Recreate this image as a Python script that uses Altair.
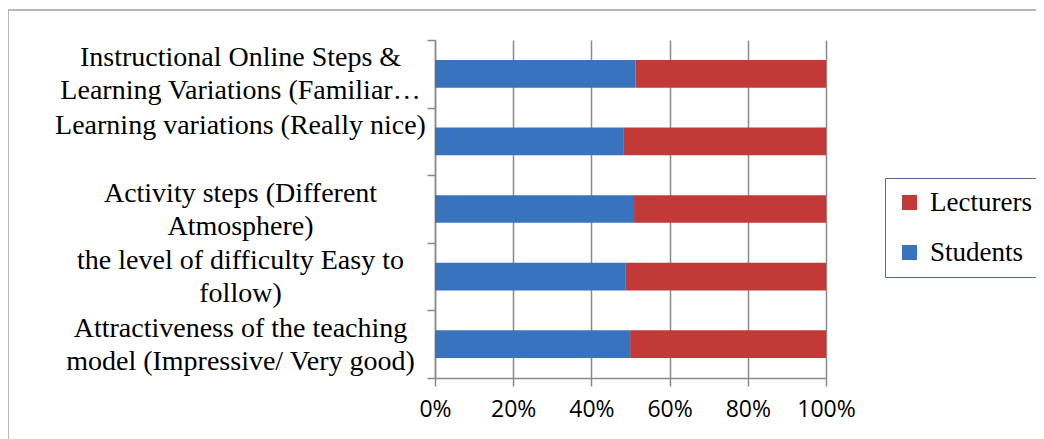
import altair as alt
import pandas as pd

categories = [
    "Instructional Online Steps &\nLearning Variations (Familiar…",
    "Learning variations (Really nice)",
    "Activity steps (Different\nAtmosphere)",
    "the level of difficulty Easy to\nfollow)",
    "Attractiveness of the teaching\nmodel (Impressive/ Very good)",
]
students = [51.3, 48.3, 50.9, 48.8, 49.9]
lecturers = [48.7, 51.7, 49.1, 51.2, 50.1]
x_ticks = [0, 20, 40, 60, 80, 100]

rows = []
for c, s, l in zip(categories, students, lecturers):
    rows.append({"category": c, "series": "Students", "value": s, "rank": 0})
    rows.append({"category": c, "series": "Lecturers", "value": l, "rank": 1})
df = pd.DataFrame(rows)

SERIF = "Liberation Serif"
SANS = "Open Sans"
GRID = "#8A8A8A"

bars = alt.Chart(df).mark_bar(height={"band": 0.41}).encode(
    y=alt.Y(
        "category:N", sort=categories,
        scale=alt.Scale(paddingInner=0, paddingOuter=0),
        axis=alt.Axis(
            title=None, tickBand="extent", grid=False,
            labelExpr="isValid(datum.value) ? split(datum.value, '\\n') : ''",
            labelFont=SERIF, labelFontSize=28, labelLineHeight=33, labelColor="#000",
            labelAlign="center", labelPadding=187, labelOffset=-16, labelLimit=0,
            domainColor=GRID, domainWidth=1.5, tickColor=GRID, tickWidth=1.5, tickSize=8,
        ),
    ),
    x=alt.X(
        "value:Q", stack="zero", scale=alt.Scale(domain=[0, 100]),
        axis=alt.Axis(
            title=None, values=x_ticks, labelExpr="datum.value + '%'", grid=True,
            gridColor=GRID, gridWidth=1.5, domainColor=GRID, domainWidth=1.5,
            tickColor=GRID, tickWidth=1.5, tickSize=8,
            labelFont=SANS, labelFontSize=23, labelColor="#000", labelPadding=12,
            labelFlush=False, labelOverlap=False,
        ),
    ),
    order=alt.Order("rank:Q", sort="ascending"),
    color=alt.Color(
        "series:N",
        scale=alt.Scale(domain=["Lecturers", "Students"], range=["#C13A38", "#3A73BD"]),
        legend=alt.Legend(
            title=None, orient="none", legendX=450, legendY=138,
            strokeColor="#4A6D9C", fillColor="white",
            padding=11, symbolType="square", symbolSize=225, symbolStrokeWidth=0,
            labelFont=SERIF, labelFontSize=27, labelColor="#000", labelOffset=7,
            rowPadding=22, labelLimit=0,
        ),
    ),
)

frame = alt.Chart(alt.Data(values=[{"f": 1}])).mark_rect(
    fill="transparent", stroke="#A0A0A0", strokeWidth=1.5
).encode(x=alt.value(-427), x2=alt.value(900), y=alt.value(-30), y2=alt.value(700))

chart = alt.layer(bars, frame).properties(
    width=391, height=338,
    autosize=alt.AutoSizeParams(type="none"),
    padding={"left": 427, "top": 32, "right": 210, "bottom": 61},
    background="white",
).configure_view(stroke=None)

chart.save("out.html", embed_options={"renderer": "svg", "actions": False})
